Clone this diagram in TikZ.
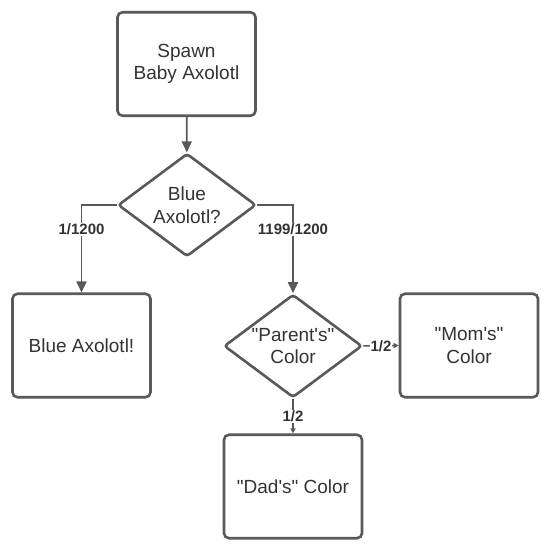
\documentclass[tikz,border=0pt]{standalone}
\usepackage{fontspec}
\newfontfamily\arialf{Liberation Sans}
\usetikzlibrary{shapes.geometric,arrows.meta}
\definecolor{ln}{HTML}{595959}
\definecolor{tx}{HTML}{333333}
\begin{document}
\begin{tikzpicture}[x=1pt,y=-1pt,
 box/.style={draw=ln,line width=2.6pt,rounded corners=5pt,minimum width=138pt,minimum height=103.5pt,inner sep=0pt,align=center,font=\arialf\fontsize{19}{22.5}\selectfont,text=tx,fill=white},
 dia/.style={diamond,draw=ln,line width=2.6pt,rounded corners=3pt,minimum width=138pt,minimum height=103pt,aspect=1.34,inner sep=0pt,align=center,font=\arialf\fontsize{19}{22.5}\selectfont,text=tx,fill=white},
 conn/.style={draw=ln,line width=1.8pt,-{Triangle[width=10pt,length=11pt]}},
 sconn/.style={draw=ln,line width=1.5pt,-{Triangle[width=5pt,length=5pt]}},
 lab/.style={fill=white,inner sep=1pt,font=\arialf\bfseries\fontsize{15}{16}\selectfont,text=tx}]
\useasboundingbox (0,0) rectangle (552,551);
\node[box] (spawn) at (186.5,64) {Spawn\\Baby Axolotl};
\node[dia] (d1) at (187,205) {Blue\\Axolotl?};
\node[box] (blue) at (81.5,345.5) {Blue Axolotl!};
\node[dia] (d2) at (293,346) {"Parent's"\\Color};
\node[box] (mom) at (469,345.5) {"Mom's"\\Color};
\node[box] (dad) at (293,486.5) {"Dad's" Color};
\draw[conn] (spawn) -- (d1);
\draw[conn] (d1.west) -| node[lab,pos=0.64]{1/1200} (blue.north);
\draw[conn] (d1.east) -| node[lab,pos=0.64]{1199/1200} (d2.north);
\draw[sconn] (d2.east) -- node[lab]{1/2} (mom.west);
\draw[sconn] (d2.south) -- node[lab]{1/2} (dad.north);
\end{tikzpicture}
\end{document}
